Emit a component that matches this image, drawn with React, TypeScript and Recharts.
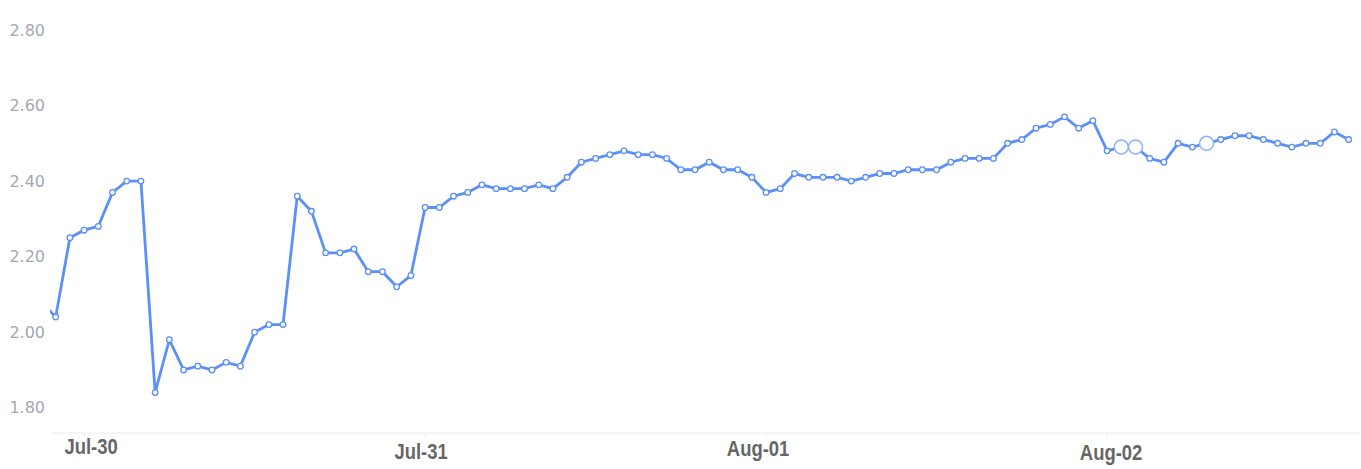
import React from 'react';
import { LineChart, Line, XAxis, YAxis } from 'recharts';

// hourly readings; first entry is the (partly clipped) hour before index 0
const FIRST_INDEX = -1;
const values: number[] = [
  2.08, 2.04, 2.25, 2.27, 2.28, 2.37, 2.40, 2.40, 1.84, 1.98,
  1.90, 1.91, 1.90, 1.92, 1.91, 2.00, 2.02, 2.02, 2.36, 2.32,
  2.21, 2.21, 2.22, 2.16, 2.16, 2.12, 2.15, 2.33, 2.33, 2.36,
  2.37, 2.39, 2.38, 2.38, 2.38, 2.39, 2.38, 2.41, 2.45, 2.46,
  2.47, 2.48, 2.47, 2.47, 2.46, 2.43, 2.43, 2.45, 2.43, 2.43,
  2.41, 2.37, 2.38, 2.42, 2.41, 2.41, 2.41, 2.40, 2.41, 2.42,
  2.42, 2.43, 2.43, 2.43, 2.45, 2.46, 2.46, 2.46, 2.50, 2.51,
  2.54, 2.55, 2.57, 2.54, 2.56, 2.48, 2.49, 2.49, 2.46, 2.45,
  2.50, 2.49, 2.50, 2.51, 2.52, 2.52, 2.51, 2.50, 2.49, 2.50,
  2.50, 2.53, 2.51,
];
const dayLabels = ['Jul-30', 'Jul-31', 'Aug-01', 'Aug-02'];
const dayTickIndex = [2, 26, 50, 74];
const highlightedIndex = [75, 76, 81];
const yTicks = [1.8, 2.0, 2.2, 2.4, 2.6, 2.8];

const data = values.map((v, k) => ({ i: FIRST_INDEX + k, v }));

// visual label offsets (dx, dy) as seen in the reference
const LABEL_DX = [7, -4, -8, 4];
const LABEL_DY = [16.5, 21.5, 19, 22.5];

const XTick = (props: any) => {
  const { x, y, payload } = props;
  const k = dayTickIndex.indexOf(payload.value);
  if (k < 0) return null;
  return (
    <text
      transform={`translate(${x + LABEL_DX[k]},${y + LABEL_DY[k]}) scale(0.84,1)`}
      x={0}
      y={0}
      textAnchor="middle"
      fill="#666666"
      fontSize={22}
      fontWeight="bold"
      fontFamily="'Liberation Sans', Arial, sans-serif"
    >
      {dayLabels[k]}
    </text>
  );
};

const Dot = (props: any) => {
  const { cx, cy, payload, index } = props;
  if (cx == null || cy == null) return null;
  const big = highlightedIndex.includes(payload.i);
  return (
    <circle
      key={`d-${index}`}
      cx={cx}
      cy={cy}
      r={big ? 7 : 2.8}
      fill="#ffffff"
      stroke={big ? '#8fb1fb' : '#5b8ff9'}
      strokeWidth={big ? 1.5 : 1.3}
    />
  );
};

export default function App() {
  return (
    <div style={{ position: 'absolute', left: 0, top: 0, background: '#fff' }}>
      <LineChart
        width={1361}
        height={469}
        data={data}
        margin={{ top: 30, right: 1, bottom: 0, left: 0 }}
      >
        <XAxis
          dataKey="i"
          type="number"
          domain={[-0.4, 91.8]}
          allowDataOverflow
          ticks={dayTickIndex}
          interval={0}
          height={36}
          axisLine={{ stroke: '#ebebeb', strokeWidth: 1 }}
          tickLine={{ stroke: '#ebebeb' }}
          tickSize={4}
          tickMargin={0}
          tick={<XTick />}
        />
        <YAxis
          type="number"
          domain={[1.733, 2.8]}
          allowDataOverflow
          ticks={yTicks}
          width={50}
          axisLine={false}
          tickLine={false}
          tickSize={0}
          tickMargin={5}
          tickFormatter={(v: number) => v.toFixed(2)}
          tick={{ fill: '#a3a8b3', fontSize: 16, fontFamily: "'DejaVu Sans', sans-serif" }}
        />
        <Line
          type="linear"
          dataKey="v"
          stroke="#5b8ff9"
          strokeWidth={2.8}
          dot={<Dot />}
          activeDot={false}
          isAnimationActive={false}
        />
      </LineChart>
    </div>
  );
}
